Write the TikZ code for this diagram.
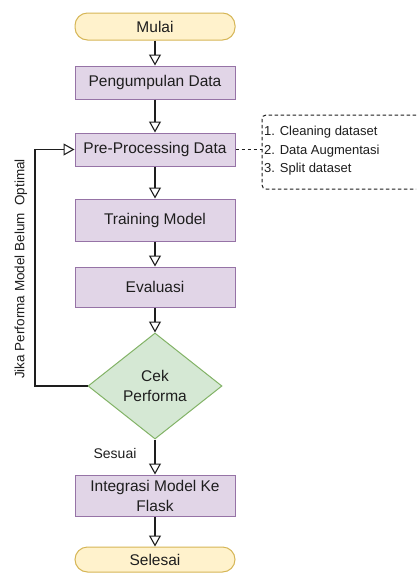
\documentclass[tikz,border=0pt]{standalone}
\usepackage{fontspec}
\setmainfont{Liberation Sans}
\usetikzlibrary{arrows.meta,shapes.geometric}
\definecolor{termfill}{HTML}{FFF2CC}
\definecolor{termdraw}{HTML}{D6B656}
\definecolor{procfill}{HTML}{E1D5E7}
\definecolor{procdraw}{HTML}{9673A6}
\definecolor{decfill}{HTML}{D5E8D4}
\definecolor{decdraw}{HTML}{82B366}
\definecolor{ink}{HTML}{1E1E1E}
\begin{document}
\begin{tikzpicture}[x=1pt,y=-1pt,
  every node/.style={text=ink},
  base/.style={font=\fontsize{15.5}{20}\selectfont, inner sep=0pt, align=center, line width=1pt},
  term/.style={base, draw=termdraw, fill=termfill, rounded corners=12.5pt, minimum width=160pt},
  proc/.style={base, draw=procdraw, fill=procfill, minimum width=160pt},
  dec/.style={base, diamond, draw=decdraw, fill=decfill, minimum width=134pt, minimum height=106pt},
  flow/.style={draw=ink, line width=1.3pt, -{Triangle[open, length=11pt, width=12pt, line width=1.1pt]}},
  note/.style={draw=ink, line width=1pt, dash pattern=on 3.5pt off 2.5pt}
]
\useasboundingbox (0,0) rectangle (416,573);
\fill[white] (0,0) rectangle (416,573);

\node[term, minimum height=27pt] (mulai) at (155,26.5) {Mulai};
\node[proc, minimum height=33pt] (kumpul) at (155,82.5) {Pengumpulan Data};
\node[proc, minimum height=33pt] (pre) at (155,149.5) {Pre-Processing Data};
\node[proc, minimum height=42pt] (train) at (155,220) {Training Model};
\node[proc, minimum height=40pt] (eval) at (155,287) {Evaluasi};
\node[dec] (cek) at (155,386) {Cek\\Performa};
\node[proc, minimum height=41pt] (integ) at (155,495.5) {Integrasi Model Ke\\Flask};
\node[term, minimum height=25pt] (selesai) at (155,559.5) {Selesai};

\draw[flow] (mulai.south) -- (kumpul.north);
\draw[flow] (kumpul.south) -- (pre.north);
\draw[flow] (pre.south) -- (train.north);
\draw[flow] (train.south) -- (eval.north);
\draw[flow] (eval.south) -- (cek.north);
\draw[flow] (cek.south) -- (integ.north);
\draw[flow] (integ.south) -- (selesai.north);

\coordinate (lp) at (35,386);
\draw[flow] (cek.west) -- (lp) |- (pre.west);

\node[inner sep=0pt, rotate=90, font=\fontsize{13.5}{16}\selectfont] (lbl) at (21,269) {Jika Performa Model Belum\ \ Optimal};
\node[inner sep=0pt, font=\fontsize{14}{16}\selectfont] (sesuai) at (115,453) {Sesuai};

\node[inner sep=0pt, anchor=west, align=left, font=\fontsize{13}{18.5}\selectfont] (list) at (264,151) {1. Cleaning dataset\\2. Data Augmentasi\\3. Split dataset};
\coordinate (brk) at (262,149.5);
\draw[note] (pre.east) -- (brk);
\draw[note, rounded corners=4pt] (416,115) -- (262,115) -- (262,189) -- (416,189);
\end{tikzpicture}
\end{document}
